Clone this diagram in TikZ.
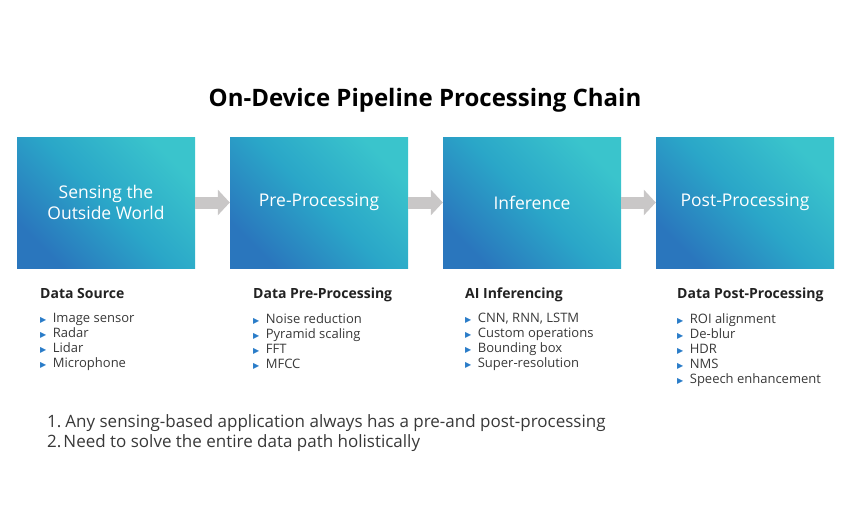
\documentclass[tikz,border=0pt]{standalone}
\usepackage{fontspec}
\setmainfont{Open Sans}
\newfontfamily\symfont{DejaVu Sans}
\usetikzlibrary{arrows.meta}
\definecolor{boxdark}{HTML}{2A76BD}
\definecolor{boxmid}{HTML}{2AA6C8}
\definecolor{boxlight}{HTML}{3AC4CC}
\definecolor{flowgray}{HTML}{C9C7C7}
\definecolor{bulletblue}{HTML}{2A7CC8}
\definecolor{textdark}{HTML}{222222}
\newcommand{\blt}{{\color{bulletblue}\symfont\fontsize{8}{8}\selectfont ▶}\hspace{6.5pt}}

\begin{document}
\begin{tikzpicture}[x=1pt,y=-1pt,
      stage/.style={minimum width=178pt,minimum height=131pt,inner sep=0pt,
        left color=boxdark,right color=boxlight,middle color=boxmid,
        shading angle=135,text=white,align=center,
        font=\fontsize{17.5}{21}\selectfont},
      flow/.style={draw=flowgray,line width=12pt,
        -{Triangle[length=12pt,width=25pt]}},
      head/.style={anchor=base west,inner sep=0pt,text=textdark,
        font=\fontsize{14}{15}\selectfont\bfseries},
      items/.style={anchor=north west,inner sep=0pt,align=left,text=textdark!90,
        font=\fontsize{13}{15}\selectfont},
      note/.style={anchor=base west,inner sep=0pt,text=textdark!90,
        font=\fontsize{17}{20}\selectfont}
    ]
    \useasboundingbox (0,0) rectangle (850,531);
    % title
    \node[font=\fontsize{24}{26}\selectfont\bfseries,text=black] (title) at (425,100)
      {On-Device Pipeline Processing Chain};
    % the four stages
    \node[stage] (sense) at (106,202.5) {Sensing the\\Outside World};
    \node[stage] (pre) at (319,202.5) {Pre-Processing};
    \node[stage] (infer) at (532,202.5) {Inference};
    \node[stage] (post) at (745,202.5) {Post-Processing};
    \draw[flow] (sense.east) -- (pre.west);
    \draw[flow] (pre.east) -- (infer.west);
    \draw[flow] (infer.east) -- (post.west);
    % details under each stage
    \node[head] (srchead) at (40,298) {Data Source};
    \node[items] (srclist) at (40,313)
      {\blt Image sensor\\ \blt Radar\\ \blt Lidar\\ \blt Microphone};
    \node[head] (prehead) at (253,298) {Data Pre-Processing};
    \node[items] (prelist) at (253,313)
      {\blt Noise reduction\\ \blt Pyramid scaling\\ \blt FFT\\ \blt MFCC};
    \node[head] (infhead) at (465,298) {AI Inferencing};
    \node[items] (inflist) at (465,313)
      {\blt CNN, RNN, LSTM\\ \blt Custom operations\\ \blt Bounding box\\
       \blt Super-resolution};
    \node[head] (posthead) at (677,298) {Data Post-Processing};
    \node[items] (postlist) at (677,313)
      {\blt ROI alignment\\ \blt De-blur\\ \blt HDR\\ \blt NMS\\
       \blt Speech enhancement};
    % notes
    \node[note] (noteone) at (47,427)
      {1.\hspace{4pt}Any sensing-based application always has a pre-and post-processing};
    \node[note] (notetwo) at (47,447)
      {2.\hspace{2pt}Need to solve the entire data path holistically};
  \end{tikzpicture}
\end{document}
